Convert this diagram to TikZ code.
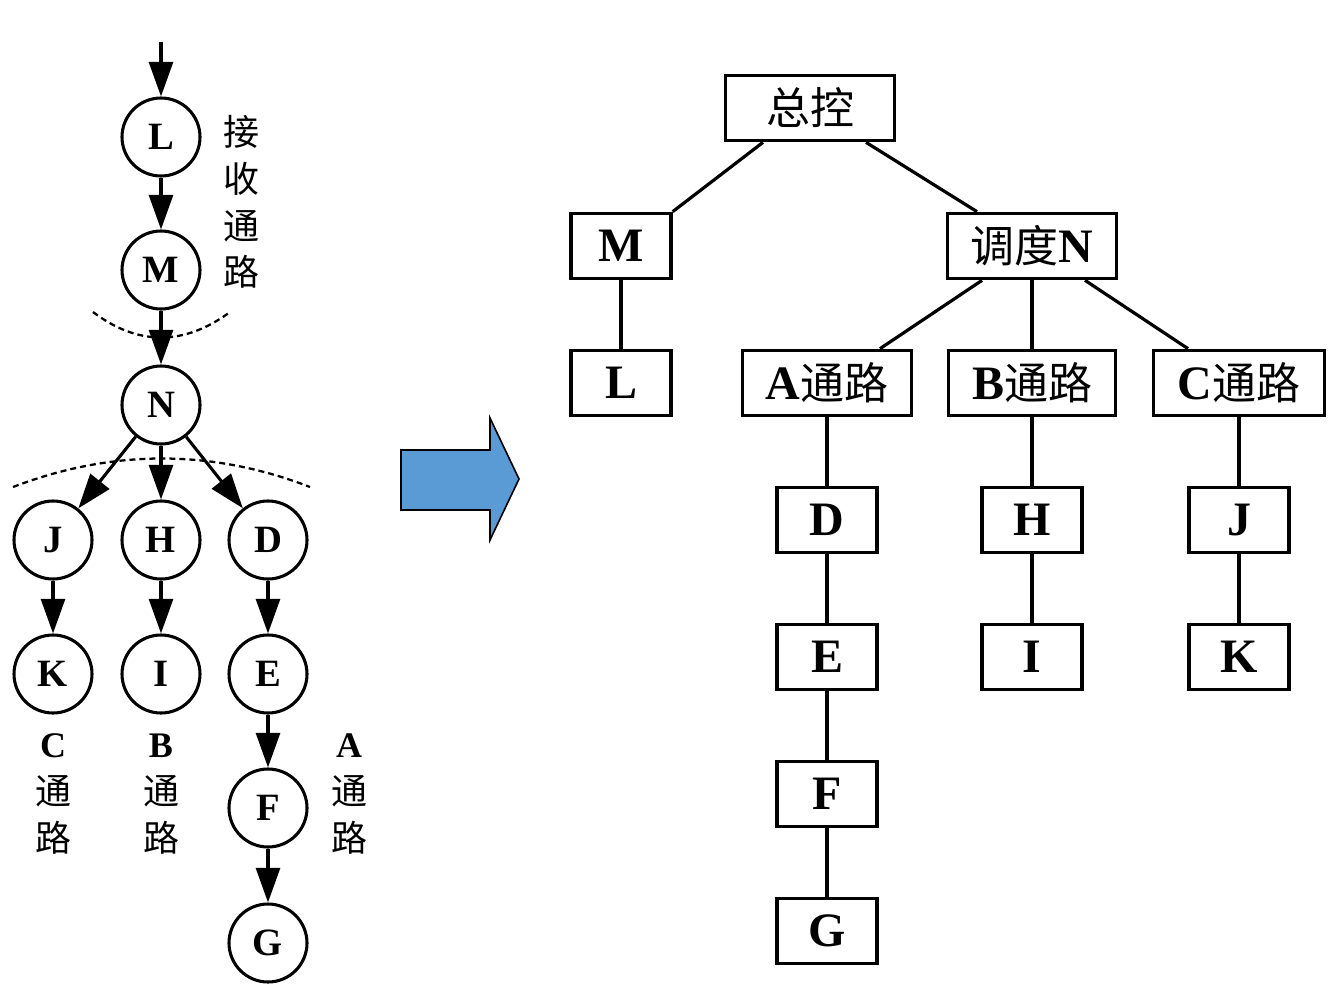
\documentclass[tikz,border=0pt]{standalone}
\usepackage{fontspec}
\setmainfont{Liberation Serif}
\newfontfamily\cjk{Noto Sans CJK SC}
\newcommand{\zh}[1]{{\cjk\mdseries #1}}
\usetikzlibrary{arrows.meta,calc}
\definecolor{arrowblue}{HTML}{5B9BD5}
\begin{document}
\begin{tikzpicture}[x=0.75pt,y=-0.75pt,
  cnode/.style={circle,draw,line width=2.3pt,minimum size=58.5pt,inner sep=0pt,font=\fontsize{29}{29}\selectfont\bfseries},
  arr/.style={line width=2.3pt,-{Triangle[length=26pt,width=18pt]}},
  sepline/.style={line width=1.7pt,dash pattern=on 4.5pt off 3pt},
  vlabel/.style={align=center,inner sep=0pt,font=\fontsize{27}{35}\selectfont},
  box/.style={draw,line width=2.5pt,minimum height=49pt,inner sep=0pt,font=\fontsize{36}{36}\selectfont\bfseries},
  sbox/.style={box,minimum width=75pt},
  wbox/.style={box,minimum width=127pt},
  link/.style={line width=2.4pt}
]
\useasboundingbox (0,0) rectangle (1342,992);

% ---------- left graph ----------
\coordinate (in) at (161,42);
\node[cnode] (L) at (161,137) {L};
\node[cnode] (M) at (161,270) {M};
\node[cnode] (N) at (161,405) {N};
\node[cnode] (J) at (53,540) {J};
\node[cnode] (H) at (161,540) {H};
\node[cnode] (D) at (268,540) {D};
\node[cnode] (K) at (53,674) {K};
\node[cnode] (I) at (161,674) {I};
\node[cnode] (E) at (268,674) {E};
\node[cnode] (F) at (268,808) {F};
\node[cnode] (G) at (268,943) {G};

\draw[arr] (in) -- (L);
\draw[arr] (L) -- (M);
\draw[arr] (M) -- (N);
\draw[arr] (N) -- (J);
\draw[arr] (N) -- (H);
\draw[arr] (N) -- (D);
\draw[arr] (J) -- (K);
\draw[arr] (H) -- (I);
\draw[arr] (D) -- (E);
\draw[arr] (E) -- (F);
\draw[arr] (F) -- (G);

\draw[sepline] (93,312) .. controls (138,346) and (184,346) .. (230,312);
\draw[sepline] (13,487) .. controls (112,449) and (212,449) .. (310,487);

\node[vlabel] (recv) at (241,202) {\zh{接}\\\zh{收}\\\zh{通}\\\zh{路}};
\node[vlabel] (cpath) at (53,794) {\textbf{C}\\\zh{通}\\\zh{路}};
\node[vlabel] (bpath) at (161,794) {\textbf{B}\\\zh{通}\\\zh{路}};
\node[vlabel] (apath) at (349,794) {\textbf{A}\\\zh{通}\\\zh{路}};

% ---------- big arrow ----------
\draw[fill=arrowblue,line width=1.2pt,line join=miter]
  (401,450) -- (490,450) -- (490,418) -- (519,479) -- (490,540) -- (490,510) -- (401,510) -- cycle;

% ---------- right tree ----------
\node[box,minimum width=127pt] (zk) at (810,108) {\zh{\fontsize{33}{33}\selectfont 总控}};
\node[sbox] (rM) at (621,246) {M};
\node[wbox] (dn) at (1032,246) {\zh{\fontsize{33}{33}\selectfont 调度}N};
\node[sbox] (rL) at (621,383) {L};
\node[box,minimum width=127pt] (pa) at (827,383) {A\zh{\fontsize{33}{33}\selectfont 通路}};
\node[box,minimum width=125pt] (pb) at (1032,383) {B\zh{\fontsize{33}{33}\selectfont 通路}};
\node[box,minimum width=128pt] (pc) at (1239,383) {C\zh{\fontsize{33}{33}\selectfont 通路}};
\node[sbox] (rD) at (827,520) {D};
\node[sbox] (rE) at (827,657) {E};
\node[sbox] (rF) at (827,794) {F};
\node[sbox] (rG) at (827,931) {G};
\node[sbox] (rH) at (1032,520) {H};
\node[sbox] (rI) at (1032,657) {I};
\node[sbox] (rJ) at (1239,520) {J};
\node[sbox] (rK) at (1239,657) {K};

\draw[link] ($(zk.south)+(-47,0)$) -- (rM.north east);
\draw[link] ($(zk.south)+(56,0)$) -- ($(dn.north)+(-55,0)$);
\draw[link] (rM) -- (rL);
\draw[link] ($(dn.south)+(-50,0)$) -- ($(pa.north)+(53,0)$);
\draw[link] (dn) -- (pb);
\draw[link] ($(dn.south)+(53,0)$) -- ($(pc.north)+(-51,0)$);
\draw[link] (pa) -- (rD);
\draw[link] (rD) -- (rE);
\draw[link] (rE) -- (rF);
\draw[link] (rF) -- (rG);
\draw[link] (pb) -- (rH);
\draw[link] (rH) -- (rI);
\draw[link] (pc) -- (rJ);
\draw[link] (rJ) -- (rK);
\end{tikzpicture}
\end{document}
